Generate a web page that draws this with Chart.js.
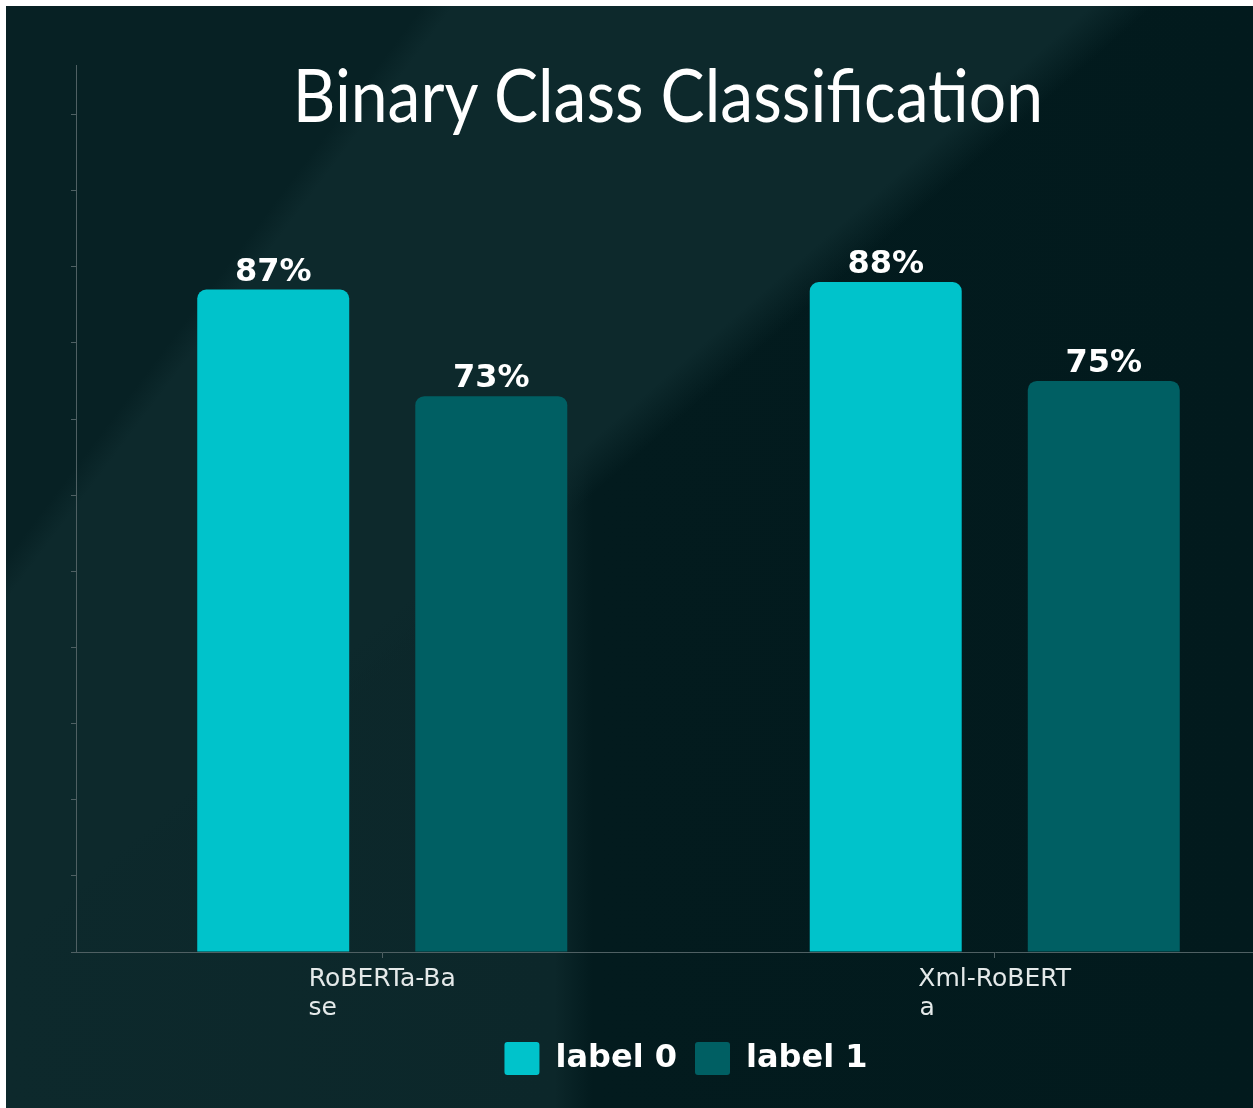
<!DOCTYPE html>
<html lang="en">
<head>
    <meta charset="UTF-8">
    <title>Binary Class Classification</title>
    <script src="https://cdn.jsdelivr.net/npm/chart.js"></script>
    <style>
        html, body {
            margin: 0;
            padding: 0;
            width: 1253px;
            height: 1108px;
            overflow: hidden;
            background: #ffffff;
        }

        #panel {
            position: absolute;
            left: 6px;
            top: 6px;
            width: 1247px;
            height: 1110px;
            overflow: hidden;
            background:
                linear-gradient(127deg, #072124 0%, #072124 20%, rgba(7, 33, 36, 0) 21.5%),
                linear-gradient(139deg, #0d292c 0%, #0d292c 43%, rgba(13, 41, 44, 0) 45.5%),
                linear-gradient(90deg, #0d292c 0%, #0c272a 44%, #031b1e 47%, #021a1d 100%);
        }

        #chart {
            position: absolute;
            left: 0;
            top: 0;
        }

        .chart-title {
            position: absolute;
            left: 662px;
            top: 51px;
            margin: 0;
            font-family: Lato, sans-serif;
            font-weight: normal;
            font-size: 74px;
            line-height: 74px;
            color: #ffffff;
            white-space: nowrap;
            transform: translateX(-50%) scaleX(0.893);
            z-index: 2;
        }
    </style>
</head>
<body>
    <div id="panel">
        <canvas id="chart" width="1324" height="1102"></canvas>
        <h1 class="chart-title" id="title"></h1>
    </div>

    <script>
        const chartTitle = 'Binary Class Classification';
        const categories = ['RoBERTa-Base', 'Xml-RoBERTa'];
        const tickLabels = [['RoBERTa-Ba', 'se'], ['Xml-RoBERT', 'a']];
        const seriesNames = ['label 0', 'label 1'];
        const label0 = [87, 88];
        const label1 = [73, 75];
        const yMax = 116.5;
        const yStep = 10;

        document.getElementById('title').textContent = chartTitle;

        const tickFont = { family: 'DejaVu Sans', size: 25, lineHeight: 1.16 };

        // wrapped labels keep their lines left aligned, so pad short lines with spaces
        function padLines(lines) {
            const ctx = document.createElement('canvas').getContext('2d');
            ctx.font = `${tickFont.size}px "${tickFont.family}"`;
            const target = Math.max(...lines.map(l => ctx.measureText(l).width));
            return lines.map(l => {
                let s = l;
                while (ctx.measureText(s + ' ').width <= target + 1) s += ' ';
                return s;
            });
        }

        const valueLabels = {
            id: 'valueLabels',
            afterDatasetsDraw(chart) {
                const ctx = chart.ctx;
                ctx.save();
                ctx.font = 'bold 32px "DejaVu Sans"';
                ctx.fillStyle = '#ffffff';
                ctx.textAlign = 'center';
                ctx.textBaseline = 'alphabetic';
                chart.data.datasets.forEach((ds, i) => {
                    chart.getDatasetMeta(i).data.forEach((bar, j) => {
                        ctx.fillText(ds.data[j] + '%', bar.x, bar.y - 9);
                    });
                });
                ctx.restore();
            }
        };

        new Chart(document.getElementById('chart'), {
            type: 'bar',
            data: {
                labels: categories,
                datasets: [
                    {
                        label: seriesNames[0],
                        data: label0,
                        backgroundColor: '#00c3cb',
                        borderWidth: 0,
                        borderRadius: 9,
                        categoryPercentage: 0.712,
                        barPercentage: 0.697
                    },
                    {
                        label: seriesNames[1],
                        data: label1,
                        backgroundColor: '#005f63',
                        borderWidth: 0,
                        borderRadius: 9,
                        categoryPercentage: 0.712,
                        barPercentage: 0.697
                    }
                ]
            },
            options: {
                responsive: false,
                animation: false,
                devicePixelRatio: 1,
                layout: { padding: { left: 65, right: 29, top: 59, bottom: 23 } },
                plugins: {
                    title: { display: false },
                    legend: {
                        position: 'bottom',
                        labels: {
                            color: '#ffffff',
                            font: { family: 'DejaVu Sans', size: 32, weight: 'bold' },
                            boxWidth: 35,
                            boxHeight: 33,
                            padding: 18,
                            useBorderRadius: true,
                            borderRadius: 3
                        }
                    },
                    tooltip: { enabled: false }
                },
                scales: {
                    x: {
                        grid: {
                            offset: false,
                            drawOnChartArea: false,
                            color: '#4f6063',
                            tickLength: 6
                        },
                        border: { color: '#4f6063', width: 1 },
                        ticks: {
                            color: '#e4e9e9',
                            font: tickFont,
                            padding: 7,
                            maxRotation: 0,
                            callback: (v, i) => padLines(tickLabels[i])
                        },
                        afterFit: axis => { axis.height = 72; }
                    },
                    y: {
                        min: 0,
                        max: yMax,
                        grid: {
                            drawOnChartArea: false,
                            color: '#4f6063',
                            tickLength: 5
                        },
                        border: { color: '#4f6063', width: 1 },
                        ticks: { display: false, stepSize: yStep },
                        afterBuildTicks: axis => {
                            axis.ticks = axis.ticks.filter(t => t.value % yStep === 0);
                        }
                    }
                }
            },
            plugins: [valueLabels]
        });
    </script>
</body>
</html>
